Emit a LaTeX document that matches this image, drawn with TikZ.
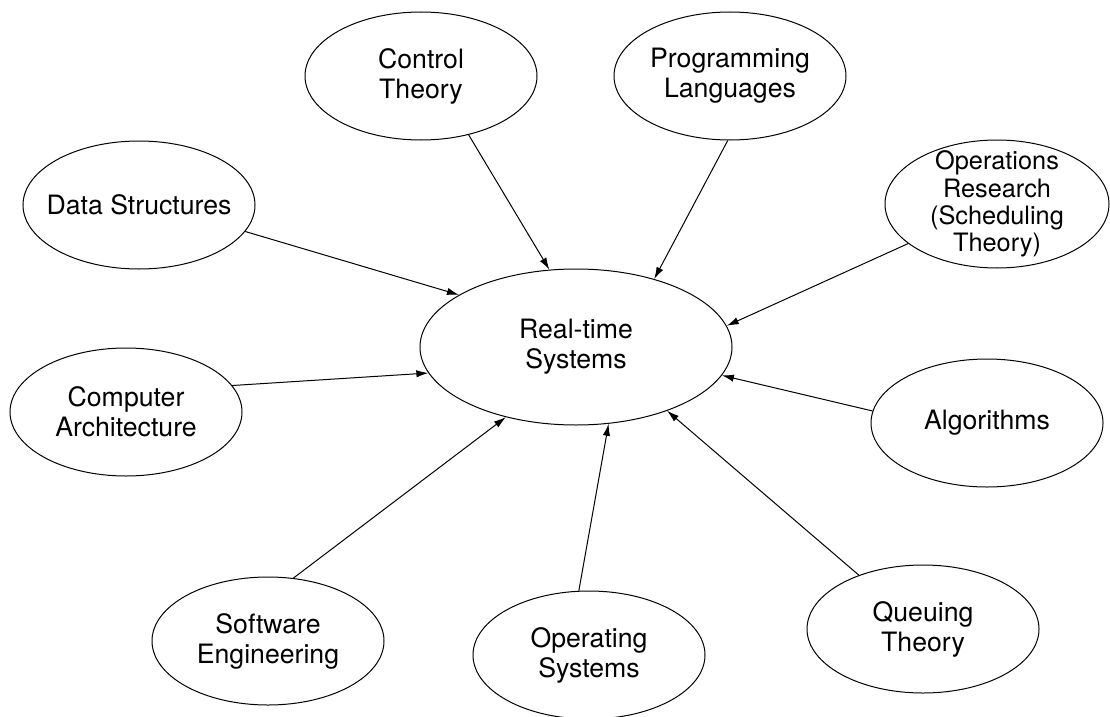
\documentclass[tikz,border=0pt]{standalone}
\usepackage{fontspec}
\setmainfont{TeX Gyre Heros}
\usetikzlibrary{shapes.geometric,arrows.meta}

\tikzset{every picture/.style={line width=0.75pt}}
\tikzset{
	topic/.style={ellipse,draw,align=center,inner sep=0pt,minimum width=174pt,minimum height=96pt,font=\fontsize{20}{22.5}\selectfont},
	topictext/.style={align=center,inner sep=0pt,font=\fontsize{19}{20.5}\selectfont},
	feed/.style={-{Latex[length=9pt,width=5.5pt]}},
}

\begin{document}
\begin{tikzpicture}[x=0.75pt,y=0.75pt,yscale=-1,xscale=1]
	\useasboundingbox (0,0) rectangle (1110,717);

	%Shape: Ellipse (centre)
	\node[topic,minimum width=234pt,minimum height=117pt] (rts) at (576,347) {Real-time\\Systems};

	%Shape: Ellipse (around)
	\node[topic] (ctl) at (421,76) {Control\\Theory};
	\node[topic] (plang) at (730,76) {Programming\\Languages};
	\node[topic] (dstr) at (139,205) {\makebox[0pt]{Data Structures}};
	\node[topic,minimum width=168pt,label={[topictext]center:{Operations\\Research\\(Scheduling\\Theory)}}] (opres) at (997,204) {};
	\node[topic] (carch) at (126,412) {Computer\\Architecture};
	\node[topic] (algo) at (987,423) {Algorithms};
	\node[topic] (seng) at (268,641) {Software\\Engineering};
	\node[topic] (osys) at (589,655) {Operating\\Systems};
	\node[topic] (qthy) at (923,629) {Queuing\\Theory};

	%Straight Lines
	\draw[feed] (dstr.-14) -- (rts.156);
	\draw[feed] (ctl.-51) -- (rts.109);
	\draw[feed] (plang.-92) -- (rts.41);
	\draw[feed] (opres.204) -- (rts.8);
	\draw[feed] (carch.14) -- (rts.190);
	\draw[feed] (algo.174) -- (rts.-11);
	\draw[feed] (seng.68) -- (rts.225);
	\draw[feed] (osys.99) -- (rts.-67);
	\draw[feed] (qthy.140) -- (rts.-35);

\end{tikzpicture}
\end{document}
